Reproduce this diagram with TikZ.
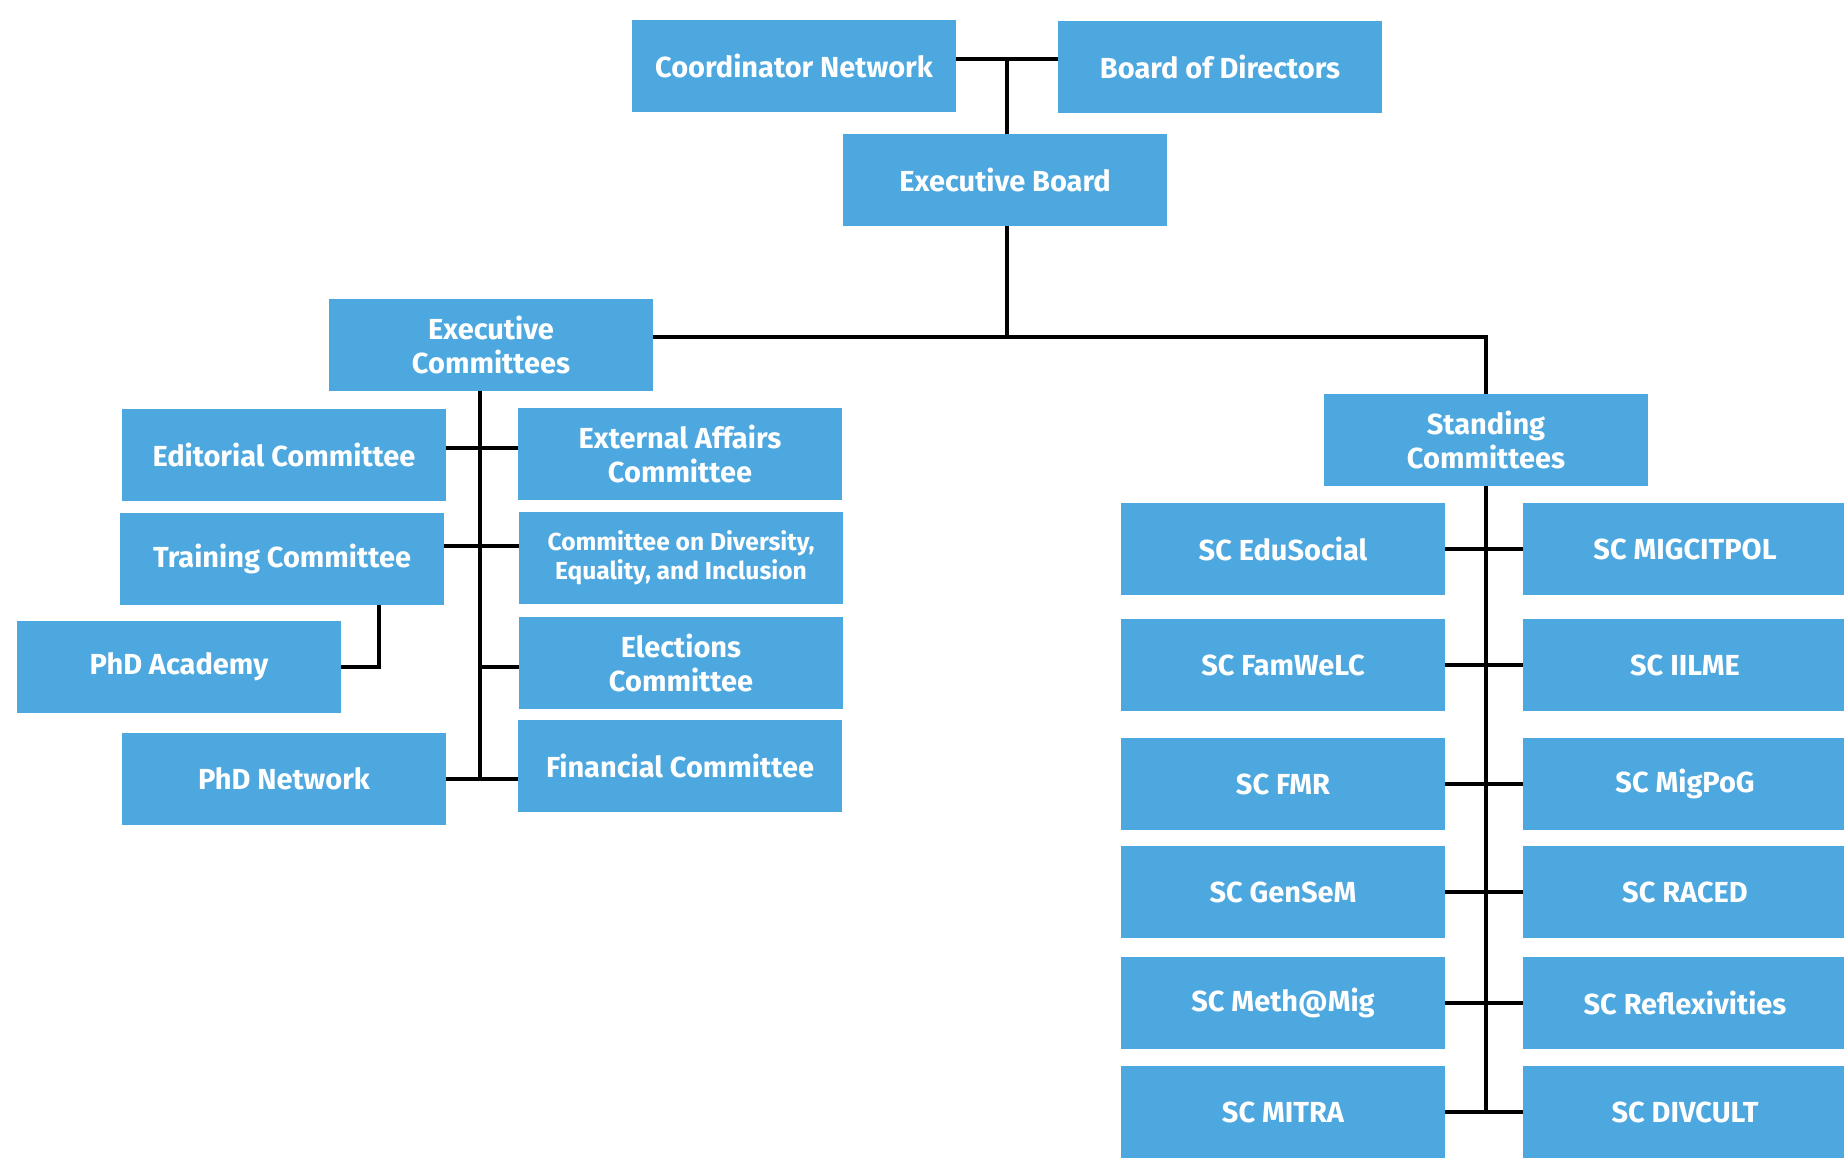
\documentclass[tikz,border=0pt]{standalone}
\usepackage{fontspec}
\setmainfont{Fira Sans}
\usetikzlibrary{calc}
\definecolor{boxblue}{RGB}{78,168,224}

\begin{document}
\begin{tikzpicture}[x=0.02cm, y=-0.02cm,
    unit/.style={fill=boxblue, text=white, font=\fontsize{16.5}{19.5}\selectfont\bfseries,
        minimum width=6.48cm, minimum height=1.84cm, align=center, inner sep=2pt},
    small/.style={font=\fontsize{14}{16.5}\selectfont\bfseries},
    link/.style={line width=1.8pt, black}]
    % Page frame
    \useasboundingbox (0,0) rectangle (1844,1168);
    \clip (0,0) rectangle (1844,1168);
    % Top of the chart
    \node[unit] (coord) at (794,66) {Coordinator Network};
    \node[unit] (board) at (1220,67) {Board of Directors};
    \node[unit] (exec) at (1005,180) {Executive Board};
    % Branch heads
    \node[unit] (ecom) at (491,345) {Executive\\Committees};
    \node[unit] (scom) at (1486,440) {Standing\\Committees};
    % Executive committees, left column
    \node[unit] (edit) at (284,455) {Editorial Committee};
    \node[unit] (train) at (282,559) {Training Committee};
    \node[unit] (acad) at (179,667) {PhD Academy};
    \node[unit] (phdnet) at (284,779) {PhD Network};
    % Executive committees, right column
    \node[unit] (extaff) at (680,454) {External Affairs\\Committee};
    \node[unit, small] (divers) at (681,558) {Committee on Diversity,\\Equality, and Inclusion};
    \node[unit] (elect) at (681,663) {Elections\\Committee};
    \node[unit] (fin) at (680,766) {Financial Committee};

    % Top links
    \coordinate (topjoin) at (1007,59);
    \draw[link] (topjoin -| coord.east) -- (topjoin -| board.west);
    \draw[link] (topjoin) -- (topjoin |- exec.north);
    \coordinate (midjoin) at (1007,337);
    \draw[link] (midjoin |- exec.south) -- (midjoin);
    \draw[link] (midjoin -| ecom.east) -- (midjoin -| scom.north) -- (scom.north);

    % Left trunk
    \coordinate (ltrunk) at (480,779);
    \draw[link] (ltrunk |- ecom.south) -- (ltrunk);
    \draw[link] (edit.east |- 0,448) -- (extaff.west |- 0,448);
    \draw[link] (train.east |- 0,546) -- (divers.west |- 0,546);
    \draw[link] (ltrunk |- 0,667) -- (elect.west |- 0,667);
    \draw[link] (phdnet.east) -- (phdnet.east -| fin.west);
    \draw[link] (acad.east) -| ($(train.south)+(97,0)$);

    % Standing committees, two columns
    \foreach \y/\nl/\nr/\tl/\tr in {
        549/edu/migcit/EduSocial/MIGCITPOL,
        665/fam/iilme/FamWeLC/IILME,
        784/fmr/migpog/FMR/MigPoG,
        892/gen/raced/GenSeM/RACED,
        1003/meth/reflex/Meth@Mig/Reflexivities,
        1112/mitra/divcult/MITRA/DIVCULT}
    {
        \node[unit] (\nl) at (1283,\y) {SC \tl};
        \node[unit] (\nr) at (1685,\y) {SC \tr};
        \draw[link] (\nl.east) -- (\nr.west);
    }
    % Right trunk
    \draw[link] (scom.south) -- (scom.south |- mitra.east);
\end{tikzpicture}
\end{document}
